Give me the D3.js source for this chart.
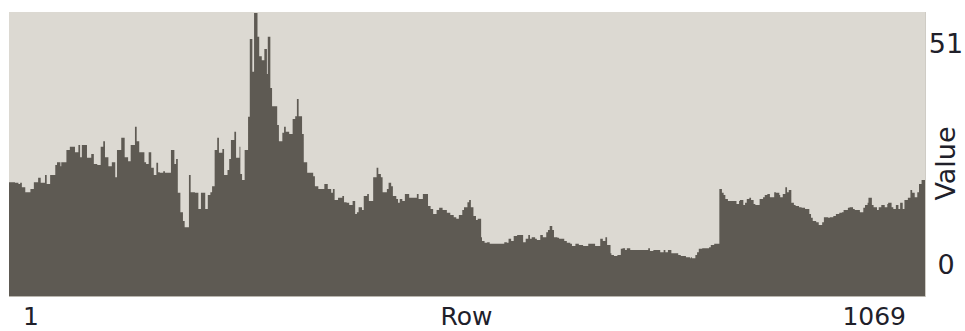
<!DOCTYPE html>
<html>
<head>
<meta charset="utf-8">
<script src="https://cdn.jsdelivr.net/npm/d3@7"></script>
<style>
  html, body { margin: 0; padding: 0; background: #ffffff; }
  svg { display: block; }
  text { font-family: "DejaVu Sans", Verdana, sans-serif; font-size: 27px; fill: #20202a; }
  text.row-label { font-size: 25px; }
</style>
</head>
<body>
<svg id="chart" width="965" height="331"></svg>
<script>
// Row profile: each run starts at a row and holds its value until the next run begins.
const rowCount = 1069;
const runStart = [
  1,8,12,14,16,20,26,30,35,38,43,45,49,55,57,61,62,68,72,78,82,84,86,92,97,100,104,108,111,113,117,121,125,127,132,136,140,143,148,150,
  153,159,161,164,167,170,173,175,177,181,183,190,194,196,198,201,204,206,211,213,218,222,225,230,233,236,238,241,244,246,250,252,256,258,260,264,266,270,271,273,
  276,280,282,285,287,291,293,296,299,302,303,306,308,314,316,320,322,324,328,332,335,337,339,343,345,349,356,358,362,369,373,377,379,381,385,390,392,395,398,402,
  405,407,409,413,415,419,421,426,430,432,435,437,442,444,447,449,453,455,457,460,463,468,477,479,484,490,493,496,500,503,507,512,516,520,523,526,530,532,536,538,
  540,543,546,548,552,553,556,559,562,579,582,584,587,590,594,601,604,607,609,611,615,617,621,624,628,630,632,635,637,641,643,649,652,656,658,662,666,671,677,685,
  691,694,697,699,703,704,707,711,715,717,720,722,726,747,749,753,761,765,767,770,774,782,785,791,796,797,798,802,804,806,810,818,820,824,830,833,835,837,840,850,
  853,854,858,860,862,865,867,870,872,877,881,883,886,889,894,896,900,901,904,907,909,911,914,917,919,923,926,930,935,937,939,943,946,950,952,957,959,963,966,970,
  973,975,980,982,986,988,994,998,1000,1003,1004,1008,1010,1014,1016,1019,1023,1026,1027,1031,1033,1036,1039,1041,1044,1046,1050,1053,1055,1058,1061,1063,1066
];
const runValue = [
  20.5,20.4,20.2,20.4,19.6,18.7,19.3,20.5,21.3,20.4,21.8,20.2,21.8,23.6,24.1,23.4,24.1,26.3,26.9,25.9,27.2,25.0,27.2,24.9,25.6,23.8,23.6,26.9,27.9,25.0,23.4,24.1,21.4,26.3,28.5,25.0,24.3,27.2,30.5,27.9,
  25.9,24.1,23.8,25.9,23.1,21.8,24.0,22.3,22.2,22.5,22.2,26.3,23.8,24.7,18.6,15.1,13.5,12.4,21.8,18.7,18.6,15.7,18.6,15.7,18.2,18.7,19.8,26.3,28.5,25.8,26.5,21.8,22.7,24.7,28.1,29.6,24.9,26.9,22.0,20.9,
  26.3,32.3,46.3,40.4,51,46.7,43.2,42.5,44.5,40.0,46.7,37.5,34.2,30.8,27.9,29.4,30.5,29.6,29.2,31.9,32.4,35.5,32.4,29.2,24.1,22.2,21.6,19.8,19.3,20.2,19.3,18.6,19.3,17.3,17.7,18.0,16.9,16.8,16.4,17.1,
  14.8,15.1,16.0,15.5,18.0,18.4,17.1,21.4,23.1,22.0,21.4,18.7,19.3,20.4,19.8,18.0,17.5,16.8,17.5,17.1,18.4,17.7,18.4,17.5,18.4,16.2,15.7,14.8,15.5,15.9,15.5,15.0,14.6,14.2,13.9,14.6,15.5,16.0,16.9,17.3,
  16.0,14.4,13.7,13.9,10.6,9.9,9.6,9.7,9.4,9.7,9.6,10.3,9.9,10.8,11.0,9.7,10.3,11.0,10.3,10.6,10.3,10.1,11.0,10.6,11.5,11.9,12.6,11.9,10.6,10.5,10.3,9.9,9.6,9.4,9.0,9.4,9.2,9.0,9.4,9.0,
  10.3,9.9,10.6,9.2,7.7,7.4,7.2,7.4,8.5,8.6,8.3,8.6,8.3,8.6,8.1,8.3,7.9,8.3,7.9,8.3,7.7,7.4,7.2,7.0,6.8,7.0,6.8,7.4,7.9,8.5,8.6,8.8,9.2,9.4,19.3,18.6,18.2,17.5,17.1,16.6,
  17.1,17.3,16.4,16.8,17.5,17.7,17.3,16.6,16.4,17.5,17.8,18.2,18.4,17.8,18.7,18.6,18.2,17.8,18.4,19.6,18.7,19.1,16.8,16.4,16.2,16.0,15.9,15.7,14.8,14.1,13.5,13.3,12.8,13.3,14.2,14.1,14.2,14.4,14.8,15.0,
  15.1,15.5,15.9,16.0,15.7,15.5,15.1,15.9,16.4,16.8,17.7,16.4,16.0,15.5,16.0,16.4,16.0,16.6,16.8,16.0,15.7,16.4,15.7,16.8,15.7,17.3,17.7,19.1,18.6,17.8,18.7,20.2,20.9
];
const valueTicks = [0, 51];
const rowTickLabels = ["1", "1069"];
const xTitle = "Row";
const yTitle = "Value";

const svg = d3.select("#chart");
const plot = { left: 9, right: 926, top: 12, bottom: 297 };

// each row occupies [row, row + 1)
const x = d3.scaleLinear().domain([1, rowCount + 1]).range([plot.left, plot.right - 1]);
const y = d3.scaleLinear().domain([0, 51]).range([plot.bottom - 1, plot.top + 1]);

svg.append("rect")
  .attr("x", plot.left).attr("y", plot.top)
  .attr("width", plot.right - plot.left).attr("height", plot.bottom - plot.top)
  .attr("fill", "#dcd9d2");

const points = runStart.map((r, i) => [r, runValue[i]]);
points.push([rowCount + 1, runValue[runValue.length - 1]]);

const area = d3.area()
  .curve(d3.curveStepAfter)
  .x(d => x(d[0]))
  .y0(y(0))
  .y1(d => y(d[1]));

svg.append("path")
  .datum(points)
  .attr("d", area)
  .attr("fill", "#5e5a53");

// frame lines along bottom and right
svg.append("line")
  .attr("x1", plot.left).attr("x2", plot.right)
  .attr("y1", plot.bottom - 0.5).attr("y2", plot.bottom - 0.5)
  .attr("stroke", "#b9b6af").attr("stroke-width", 1);
svg.append("line")
  .attr("x1", plot.right - 0.5).attr("x2", plot.right - 0.5)
  .attr("y1", plot.top).attr("y2", plot.bottom)
  .attr("stroke", "#cfccc5").attr("stroke-width", 1);

// value labels on the right, inset from the plot ends
const labelX = 946;
svg.append("text").attr("x", labelX).attr("y", y(valueTicks[1]) + 40)
  .attr("text-anchor", "middle").text(String(valueTicks[1]));
svg.append("text").attr("x", labelX).attr("y", y(valueTicks[0]) - 22)
  .attr("text-anchor", "middle").text(String(valueTicks[0]));
svg.append("text")
  .attr("transform", `translate(955,${(plot.top + plot.bottom) / 2 + 9}) rotate(-90)`)
  .attr("text-anchor", "middle").text(yTitle);

// row labels underneath
const labelY = 325;
svg.append("text").attr("class", "row-label").attr("x", x(1) + 14).attr("y", labelY)
  .attr("text-anchor", "start").text(rowTickLabels[0]);
svg.append("text").attr("class", "row-label").attr("x", (plot.left + plot.right) / 2 - 1).attr("y", labelY)
  .attr("text-anchor", "middle").text(xTitle);
svg.append("text").attr("class", "row-label").attr("x", x(rowCount + 1) - 19).attr("y", labelY)
  .attr("text-anchor", "end").text(rowTickLabels[1]);
</script>
</body>
</html>
